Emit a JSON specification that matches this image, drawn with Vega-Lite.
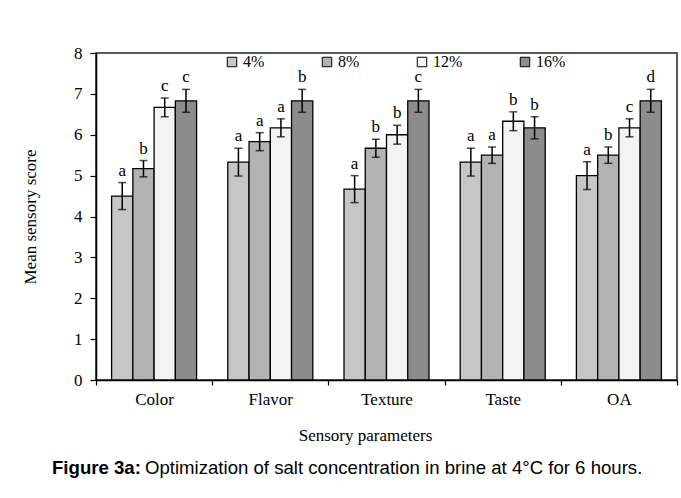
{
  "$schema": "https://vega.github.io/schema/vega-lite/v6.json",
  "width": 581,
  "height": 327,
  "autosize": {"type": "none"},
  "padding": {"left": 96, "top": 53, "right": 4, "bottom": 118},
  "background": "white",
  "config": {
    "font": "Liberation Serif",
    "view": {"stroke": "#222222", "strokeWidth": 1.5},
    "axis": {"domainColor": "#000000", "tickColor": "#000000", "labelColor": "#000000", "titleColor": "#000000", "domainWidth": 1.5, "tickWidth": 1.2, "grid": false, "labelFont": "Liberation Serif", "titleFont": "Liberation Serif", "titleFontWeight": "normal"}
  },
  "title": {
    "text": "Figure 3a:",
    "subtitle": "\u200b\u00a0\u00a0\u00a0\u00a0\u00a0\u00a0\u00a0\u00a0\u00a0\u00a0\u00a0\u00a0\u00a0\u00a0\u00a0\u00a0\u00a0\u00a0Optimization of salt concentration in brine at 4°C for 6 hours.",
    "orient": "bottom",
    "anchor": "start",
    "frame": "group",
    "dx": -44,
    "offset": 16,
    "font": "Liberation Sans",
    "fontSize": 18.6,
    "fontWeight": "bold",
    "color": "#000000",
    "subtitleFont": "Liberation Sans",
    "subtitleFontSize": 18.6,
    "subtitleFontWeight": "normal",
    "subtitleColor": "#000000",
    "subtitlePadding": -18.6
  },
  "data": {
    "values": [
      {"param": "Color", "conc": "4%", "mean": 4.5, "lo": 4.17, "hi": 4.83, "letter": "a"},
      {"param": "Color", "conc": "8%", "mean": 5.17, "lo": 4.97, "hi": 5.37, "letter": "b"},
      {"param": "Color", "conc": "12%", "mean": 6.67, "lo": 6.44, "hi": 6.9, "letter": "c"},
      {"param": "Color", "conc": "16%", "mean": 6.83, "lo": 6.55, "hi": 7.11, "letter": "c"},
      {"param": "Flavor", "conc": "4%", "mean": 5.33, "lo": 4.99, "hi": 5.67, "letter": "a"},
      {"param": "Flavor", "conc": "8%", "mean": 5.83, "lo": 5.61, "hi": 6.05, "letter": "a"},
      {"param": "Flavor", "conc": "12%", "mean": 6.17, "lo": 5.95, "hi": 6.39, "letter": "a"},
      {"param": "Flavor", "conc": "16%", "mean": 6.83, "lo": 6.55, "hi": 7.11, "letter": "b"},
      {"param": "Texture", "conc": "4%", "mean": 4.67, "lo": 4.34, "hi": 5.0, "letter": "a"},
      {"param": "Texture", "conc": "8%", "mean": 5.67, "lo": 5.45, "hi": 5.89, "letter": "b"},
      {"param": "Texture", "conc": "12%", "mean": 6.0, "lo": 5.77, "hi": 6.23, "letter": "b"},
      {"param": "Texture", "conc": "16%", "mean": 6.83, "lo": 6.55, "hi": 7.11, "letter": "c"},
      {"param": "Taste", "conc": "4%", "mean": 5.33, "lo": 4.99, "hi": 5.67, "letter": "a"},
      {"param": "Taste", "conc": "8%", "mean": 5.5, "lo": 5.3, "hi": 5.7, "letter": "a"},
      {"param": "Taste", "conc": "12%", "mean": 6.33, "lo": 6.1, "hi": 6.56, "letter": "b"},
      {"param": "Taste", "conc": "16%", "mean": 6.17, "lo": 5.9, "hi": 6.44, "letter": "b"},
      {"param": "OA", "conc": "4%", "mean": 5.0, "lo": 4.66, "hi": 5.34, "letter": "a"},
      {"param": "OA", "conc": "8%", "mean": 5.5, "lo": 5.3, "hi": 5.7, "letter": "b"},
      {"param": "OA", "conc": "12%", "mean": 6.17, "lo": 5.95, "hi": 6.39, "letter": "c"},
      {"param": "OA", "conc": "16%", "mean": 6.83, "lo": 6.55, "hi": 7.11, "letter": "d"}
    ]
  },
  "encoding": {
    "x": {
      "field": "param", "type": "nominal",
      "sort": ["Color", "Flavor", "Texture", "Taste", "OA"],
      "scale": {"paddingInner": 0, "paddingOuter": 0},
      "axis": {"title": "Sensory parameters", "labelAngle": 0, "labelFontSize": 17, "titleFontSize": 17, "tickBand": "extent", "tickSize": 5, "labelPadding": 6, "titleX": 269, "titleY": 47}
    },
    "xOffset": {
      "field": "conc", "type": "nominal",
      "sort": ["4%", "8%", "12%", "16%"],
      "scale": {"paddingInner": 0, "paddingOuter": 0.734}
    }
  },
  "layer": [
    {
      "mark": {"type": "bar", "stroke": "#000000", "strokeWidth": 1.3},
      "encoding": {
        "y": {
          "field": "mean", "type": "quantitative",
          "scale": {"domain": [0, 8], "nice": false},
          "axis": {"title": "Mean sensory score", "values": [0, 1, 2, 3, 4, 5, 6, 7, 8], "labelFontSize": 17, "titleFontSize": 17, "tickSize": 6, "labelPadding": 8, "titleX": -57}
        },
        "color": {
          "field": "conc", "type": "nominal",
          "sort": ["4%", "8%", "12%", "16%"],
          "scale": {"domain": ["4%", "8%", "12%", "16%"], "range": ["#c6c6c6", "#b3b3b3", "#f3f3f3", "#8c8c8c"]},
          "legend": {
            "title": null, "orient": "none", "direction": "horizontal", "columns": 4,
            "legendX": 128, "legendY": 1, "padding": 0,
            "symbolType": "square", "symbolSize": 90, "symbolStrokeColor": "#000000", "symbolStrokeWidth": 1,
            "labelFont": "Liberation Serif", "labelFontSize": 16, "labelColor": "#000000", "labelOffset": 3,
            "columnPadding": 54
          }
        }
      }
    },
    {
      "mark": {"type": "rule", "color": "#000000", "strokeWidth": 1.5},
      "encoding": {
        "y": {"field": "lo", "type": "quantitative"},
        "y2": {"field": "hi"}
      }
    },
    {
      "mark": {"type": "tick", "color": "#000000", "thickness": 1.5, "size": 8},
      "encoding": {"y": {"field": "lo", "type": "quantitative"}}
    },
    {
      "mark": {"type": "tick", "color": "#000000", "thickness": 1.5, "size": 8},
      "encoding": {"y": {"field": "hi", "type": "quantitative"}}
    },
    {
      "mark": {"type": "text", "baseline": "alphabetic", "dy": -7, "fontSize": 17, "font": "Liberation Serif", "color": "#000000"},
      "encoding": {
        "y": {"field": "hi", "type": "quantitative"},
        "text": {"field": "letter"}
      }
    }
  ]
}
